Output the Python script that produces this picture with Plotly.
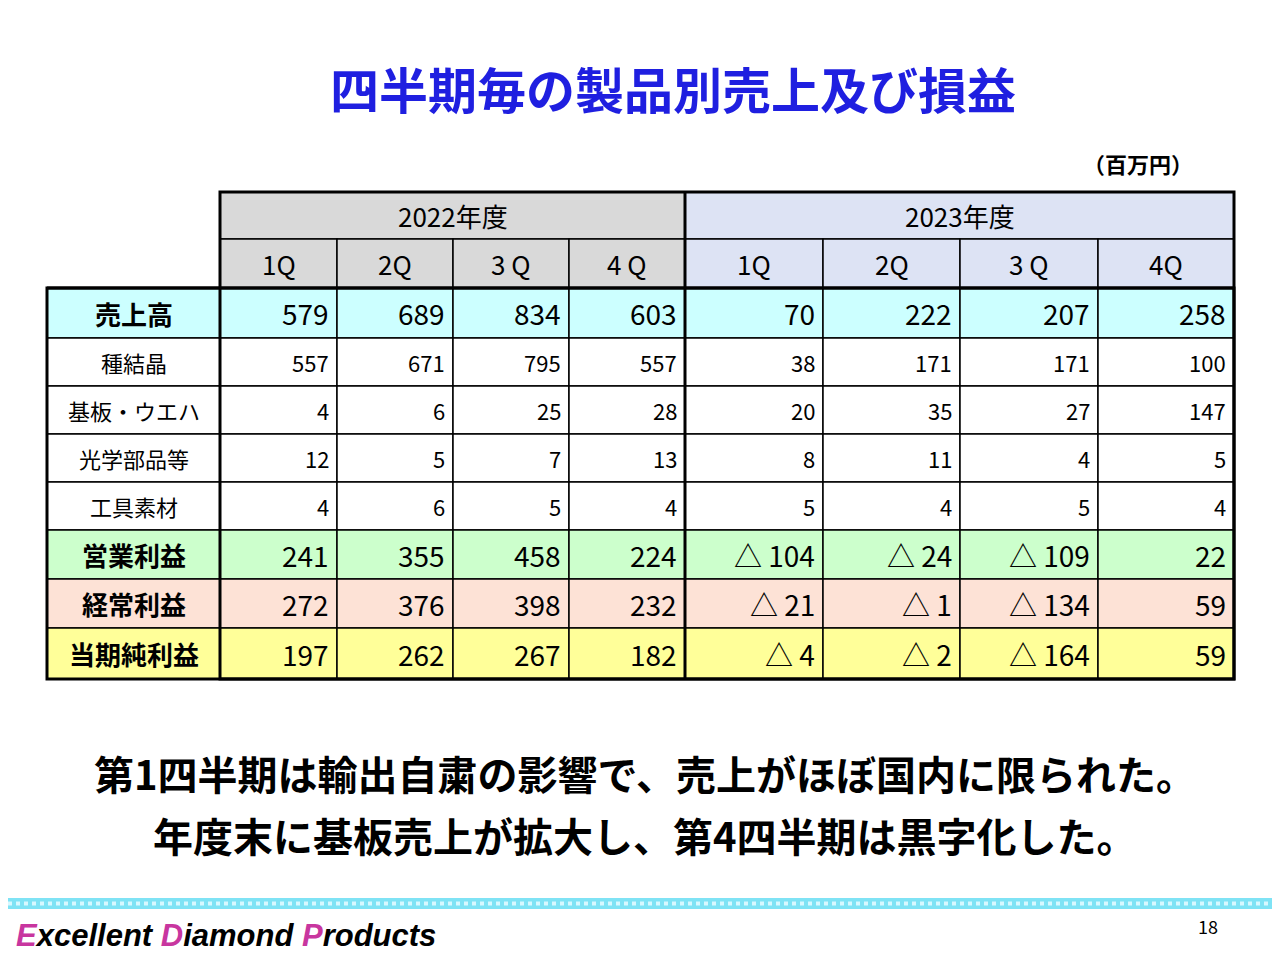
import plotly.graph_objects as go

# data
years = ["2022年度", "2023年度"]
quarters = ["1Q", "2Q", "3 Q", "4 Q", "1Q", "2Q", "3 Q", "4Q"]
row_labels = ["売上高", "種結晶", "基板・ウエハ", "光学部品等", "工具素材", "営業利益", "経常利益", "当期純利益"]
sales = [579, 689, 834, 603, 70, 222, 207, 258]
seed = [557, 671, 795, 557, 38, 171, 171, 100]
wafer = [4, 6, 25, 28, 20, 35, 27, 147]
optical = [12, 5, 7, 13, 8, 11, 4, 5]
tools = [4, 6, 5, 4, 5, 4, 5, 4]
op_income = [241, 355, 458, 224, -104, -24, -109, 22]
ord_income = [272, 376, 398, 232, -21, -1, -134, 59]
net_income = [197, 262, 267, 182, -4, -2, -164, 59]
rows = [sales, seed, wafer, optical, tools, op_income, ord_income, net_income]

# layout
col_x = [47, 220, 337, 453, 569, 685, 823, 960, 1098, 1234]
hdr_y = [192, 239, 288]
row_y = [288, 338, 386, 434, 482, 530, 579, 628, 679]
row_fill = ["#ccffff", "white", "white", "white", "white", "#ccffcc", "#fde2d6", "#ffff99"]
big_row = [True, False, False, False, False, True, True, True]
year_fill = ["#d9d9d9", "#dde3f4"]
FONT = "Noto Sans CJK JP"

fig = go.Figure()
shapes, ann = [], []


def rect(x0, y0, x1, y1, fill, w=1.5):
    shapes.append(dict(type="rect", x0=x0, y0=y0, x1=x1, y1=y1, fillcolor=fill,
                       line=dict(color="black", width=w), layer="below"))


def text(x, y, s, size, anchor="center", color="black", bold=False):
    if bold:
        s = "<b>" + s + "</b>"
    ann.append(dict(x=x, y=y, text=s, showarrow=False, xanchor=anchor, yanchor="middle",
                    font=dict(family=FONT, size=size, color=color)))


def fmt(v):
    return "△ " + str(-v) if v < 0 else str(v)


# header
for i, yname in enumerate(years):
    x0, x1 = col_x[1 + 4 * i], col_x[5 + 4 * i]
    rect(x0, hdr_y[0], x1, hdr_y[1], year_fill[i])
    text((x0 + x1) / 2, (hdr_y[0] + hdr_y[1]) / 2, yname, 26)
for j, q in enumerate(quarters):
    x0, x1 = col_x[j + 1], col_x[j + 2]
    rect(x0, hdr_y[1], x1, hdr_y[2], year_fill[j // 4])
    text((x0 + x1) / 2, (hdr_y[1] + hdr_y[2]) / 2, q, 26)

# body
for r, (lab, vals) in enumerate(zip(row_labels, rows)):
    y0, y1 = row_y[r], row_y[r + 1]
    ym = (y0 + y1) / 2
    rect(col_x[0], y0, col_x[1], y1, row_fill[r])
    text((col_x[0] + col_x[1]) / 2, ym, lab, 26 if big_row[r] else 22, bold=big_row[r])
    for j, v in enumerate(vals):
        rect(col_x[j + 1], y0, col_x[j + 2], y1, row_fill[r])
        text(col_x[j + 2] - 6, ym, fmt(v), 28 if big_row[r] else 22, anchor="right")

# thick borders
shapes.append(dict(type="line", x0=col_x[5], x1=col_x[5], y0=hdr_y[0], y1=row_y[-1],
                   line=dict(color="black", width=3)))
shapes.append(dict(type="line", x0=col_x[0], x1=col_x[-1], y0=row_y[0], y1=row_y[0],
                   line=dict(color="black", width=3)))
shapes.append(dict(type="rect", x0=col_x[1], y0=hdr_y[0], x1=col_x[-1], y1=row_y[-1],
                   line=dict(color="black", width=3)))
shapes.append(dict(type="rect", x0=col_x[0], y0=row_y[0], x1=col_x[-1], y1=row_y[-1],
                   line=dict(color="black", width=3)))

# titles and notes
text(673, 87, "四半期毎の製品別売上及び損益", 49, color="#1f1fe0", bold=True)
text(1138, 163, "（百万円）", 22, bold=True)
text(645, 773, "第1四半期は輸出自粛の影響で、売上がほぼ国内に限られた。", 40, bold=True)
text(645, 835, "年度末に基板売上が拡大し、第4四半期は黒字化した。", 40, bold=True)

# footer band
shapes.append(dict(type="rect", x0=0, x1=1280, y0=898, y1=909, fillcolor="#7fe3f5", line=dict(width=0)))
shapes.append(dict(type="line", x0=0, x1=1280, y0=903.5, y1=903.5,
                   line=dict(color="#d8f8ff", width=4, dash="dot")))
ann.append(dict(x=14, y=935, xanchor="left", yanchor="middle", showarrow=False,
                text="<b><i><span style='color:#c8369f'>E</span>xcellent "
                     "<span style='color:#c8369f'>D</span>iamond "
                     "<span style='color:#c8369f'>P</span>roducts</i></b>",
                font=dict(family="Liberation Sans", size=31, color="black")))
text(1208, 926, "18", 18)

# the page puts the plot 8px in from the corner, so shift the ranges to match
fig.update_layout(
    width=1272, height=952, margin=dict(l=0, r=0, t=0, b=0),
    plot_bgcolor="white", paper_bgcolor="white",
    xaxis=dict(range=[8, 1280], visible=False, fixedrange=True),
    yaxis=dict(range=[960, 8], visible=False, fixedrange=True),
    shapes=shapes, annotations=ann, showlegend=False,
)
fig.write_html("out.html")
